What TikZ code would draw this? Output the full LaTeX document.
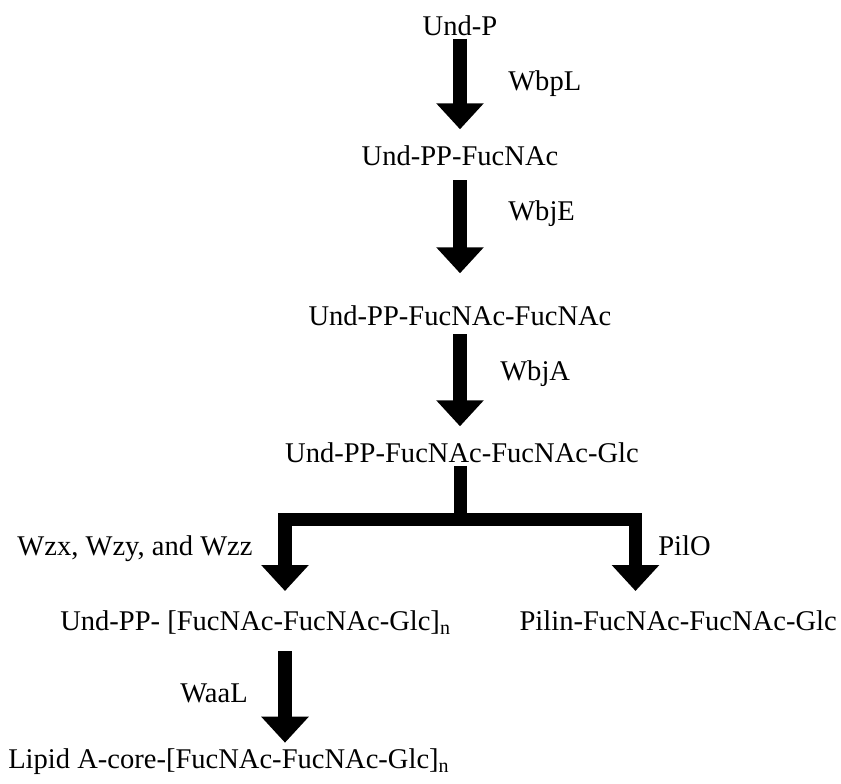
\documentclass[tikz,border=0pt]{standalone}
\usepackage{fontspec}
\setmainfont{Liberation Serif}
\usetikzlibrary{arrows.meta}
\begin{document}
\begin{tikzpicture}[x=0.025cm, y=-0.025cm, font=\fontsize{20.3}{24}\selectfont, line join=miter,
		lbl/.style={inner sep=0pt, text height=0.7em, text depth=0.25em},
		blk/.style={line width=0.37cm, -{Triangle[width=1.15cm,length=0.65cm]}},
		fork/.style={line width=0.34cm}]
	\useasboundingbox (0,0) rectangle (841,783);
	% substrates
	\node[lbl, anchor=base] (undp) at (460,35) {Und-P};
	\node[lbl, anchor=base] (fuc) at (460,165) {Und-PP-FucNAc};
	\node[lbl, anchor=base] (fucfuc) at (460,325) {Und-PP-FucNAc-FucNAc};
	\node[lbl, anchor=base] (glc) at (462,462) {Und-PP-FucNAc-FucNAc-Glc};
	\node[lbl, anchor=base west] (undn) at (60,630) {Und-PP- [FucNAc-FucNAc-Glc]\textsubscript{n}};
	\node[lbl, anchor=base east] (pilin) at (837,630) {Pilin-FucNAc-FucNAc-Glc};
	\node[lbl, anchor=base west] (lipid) at (8,768) {Lipid A-core-[FucNAc-FucNAc-Glc]\textsubscript{n}};
	% enzymes
	\node[lbl, anchor=base west] (wbpl) at (508,90) {WbpL};
	\node[lbl, anchor=base west] (wbje) at (508,220) {WbjE};
	\node[lbl, anchor=base west] (wbja) at (500,380) {WbjA};
	\node[lbl, anchor=base] (wzx) at (135,555) {Wzx, Wzy, and Wzz};
	\node[lbl, anchor=base west] (pilo) at (658,555) {PilO};
	\node[lbl, anchor=base west] (waal) at (180,702) {WaaL};
	% arrows
	\draw[blk, shorten >=0.64cm] (undp.south) -- (fuc.north);
	\draw[blk, shorten <=0.29cm, shorten >=1.04cm] (fuc.south) -- (fucfuc.north);
	\draw[blk, shorten <=0.14cm, shorten >=0.64cm] (fucfuc.south) -- (fucfuc.south |- glc.north);
	\coordinate (split) at (460.5,519.5);
	\coordinate (lt) at (285,591);
	\coordinate (rt) at (635.5,591);
	\draw[fork] (split |- glc.south) -- (split);
	\draw[blk, line width=0.34cm] (split) -| (lt);
	\draw[blk, line width=0.34cm] (split) -| (rt);
	\draw[blk, shorten <=0.44cm, shorten >=0.38cm] (undn.south -| lt) -- (lipid.north -| lt);
\end{tikzpicture}
\end{document}
